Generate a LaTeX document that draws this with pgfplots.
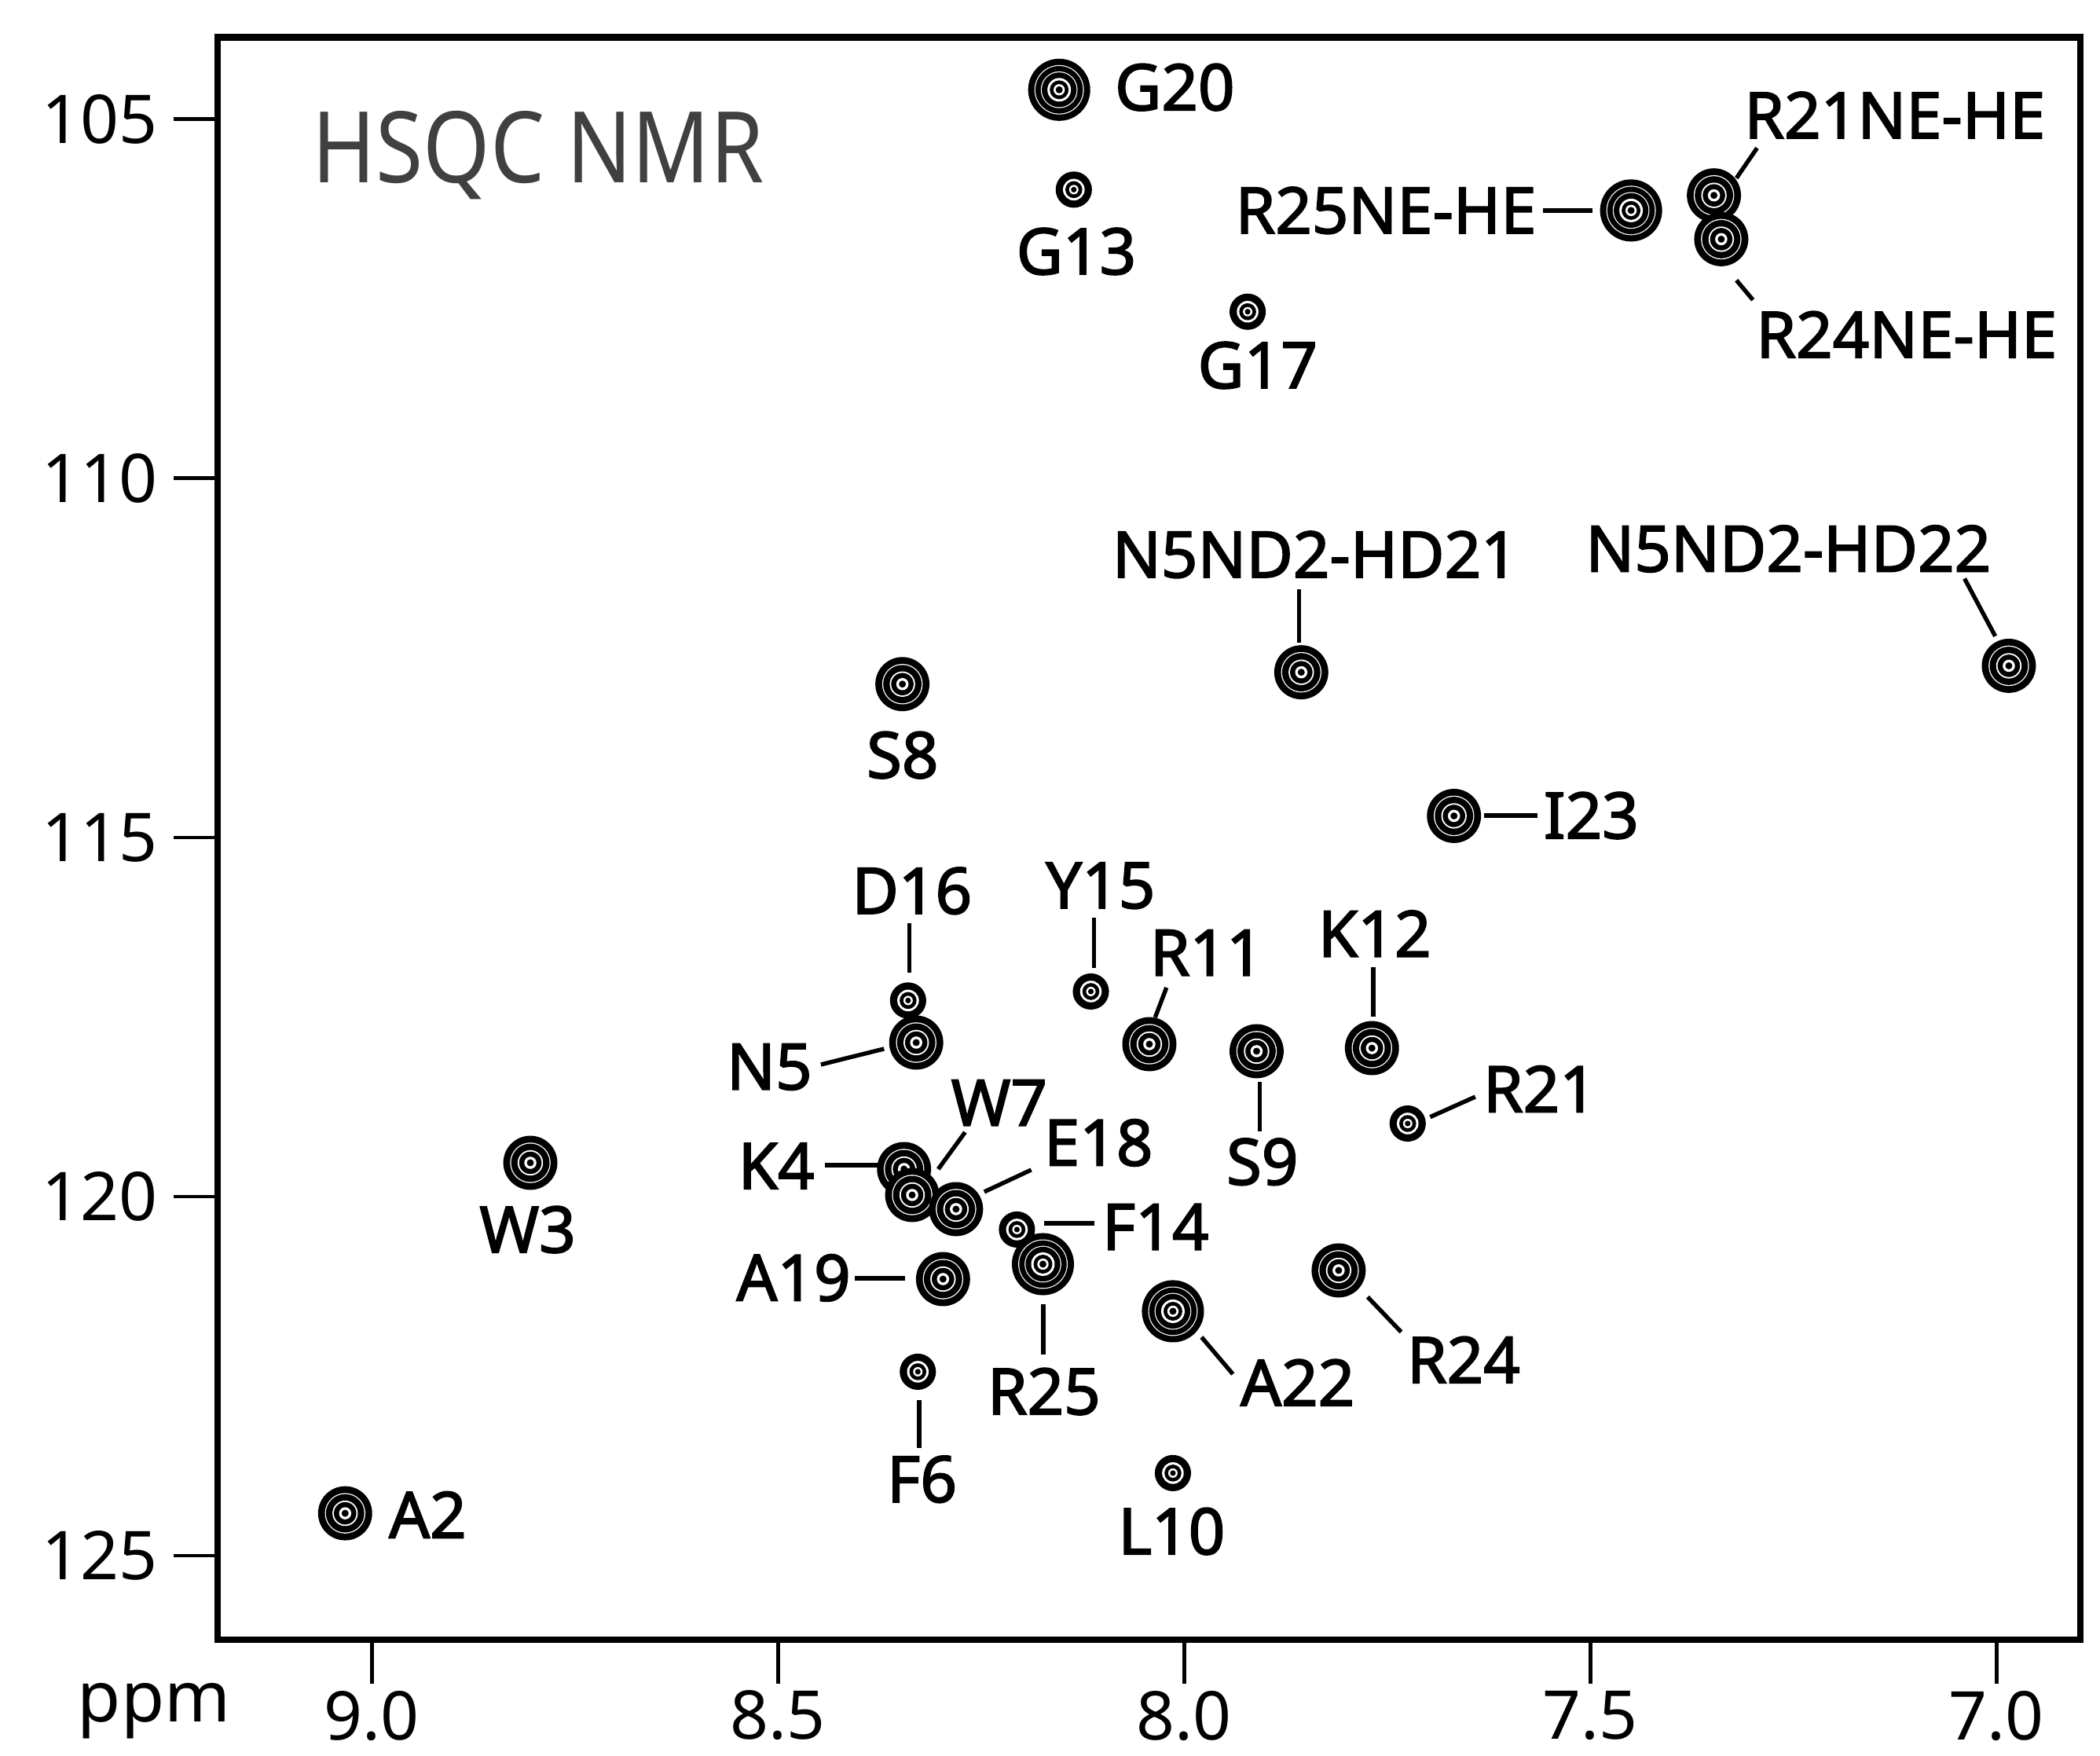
\documentclass[border=0pt]{standalone}
\usepackage{fontspec}
\setmainfont{Noto Sans}
\newfontfamily\labfont{Noto Sans}[FakeBold=2.2]
\usepackage{graphicx}
\usepackage{pgfplots}
\pgfplotsset{compat=1.18}

% peak glyphs: stacked filled circles give the contour rings
\newcommand\ring[2]{\pgfsetfillcolor{#1}\pgfpathcircle{\pgfpointorigin}{#2}\pgfusepathqfill}
\pgfdeclareplotmark{pkS}{\ring{black}{3.85pt}\ring{white}{2.3pt}\ring{black}{1.8pt}\ring{white}{1.0pt}\ring{black}{0.6pt}}
\pgfdeclareplotmark{pkM}{\ring{black}{5.75pt}\ring{white}{4.3pt}\ring{black}{4.08pt}\ring{white}{2.7pt}\ring{black}{2.38pt}\ring{white}{1.3pt}\ring{black}{0.75pt}}
\pgfdeclareplotmark{pkL}{\ring{black}{6.6pt}\ring{white}{5.25pt}\ring{black}{5.05pt}\ring{white}{3.9pt}\ring{black}{3.7pt}\ring{white}{2.5pt}\ring{black}{2.0pt}\ring{white}{1.2pt}\ring{black}{0.75pt}}

\tikzset{
  lab/.style={font=\labfont\fontsize{13.6}{16}\selectfont, inner sep=0pt},
  ld/.style={line width=0.9pt},
}

\pgfplotstableread{
H      N        sz  name
9.033  124.41   M   A2
8.805  119.53   M   W3
8.345  119.617  M   K4
8.335  119.978  M   W7
8.281  120.175  M   E18
8.340  117.27   S   D16
8.330  117.856  M   N5
8.328  122.439  S   F6
8.297  121.149  M   A19
8.347  112.865  M   S8
8.206  120.459  S   F14
8.174  120.941  L   R25
8.154  104.59   L   G20
8.136  105.98   S   G13
8.115  117.145  S   Y15
8.043  117.878  M   R11
8.014  121.597  L   A22
8.014  123.85   S   L10
7.922  107.68   S   G17
7.911  117.976  M   S9
7.856  112.70   M   N5ND2-HD21
7.810  121.028  M   R24
7.769  117.933  M   K12
7.725  118.983  S   R21
7.668  114.70   M   I23
7.450  106.27   L   R25NE-HE
7.348  106.06   M   R21NE-HE
7.339  106.67   M   R24NE-HE
6.985  112.61   M   N5ND2-HD22
}\peaks

\begin{document}
\begin{tikzpicture}
\useasboundingbox (-1.625,-0.868) rectangle (14.056,12.243);
\begin{axis}[
  at={(0,0)}, anchor=south west,
  width=13.909cm, height=11.964cm, scale only axis,
  x dir=reverse, y dir=reverse,
  xmin=6.897, xmax=9.190, ymin=103.86, ymax=126.17,
  xtick={7,7.5,8,8.5,9}, ytick={105,110,115,120,125},
  xtick pos=left, ytick pos=left, xticklabel pos=left, yticklabel pos=left,
  tick align=outside, major tick length=9.3pt,
  axis line style={line width=1.4pt},
  tick style={line width=0.8pt, black},
  x tick label style={yshift=2pt, /pgf/number format/.cd, fixed, fixed zerofill, precision=1},
  tick label style={font=\fontsize{14.3}{17}\selectfont},
  /pgf/number format/assume math mode=true,
  clip=false,
]
\addplot[scatter, only marks, scatter src=explicit symbolic,
  scatter/classes={S={mark=pkS}, M={mark=pkM}, L={mark=pkL}}]
  table[x=H, y=N, meta=sz] {\peaks};

\node[anchor=base west, text=black!75, inner sep=0pt] at ([xshift=19.9pt, yshift=-30.8pt]axis description cs:0,1)
  {\scalebox{0.87}[1]{\fontsize{21}{25}\selectfont HSQC NMR}};
\node[anchor=base, inner sep=0pt, font=\fontsize{15}{18}\selectfont] at ([xshift=-13.5pt, yshift=-17.5pt]axis description cs:0,0) {ppm};

\node[lab, anchor=west] at (axis cs:8.0866,104.555) {G20};
\node[lab, anchor=north] at (axis cs:8.133,106.50) {G13};
\node[lab, anchor=north] at (axis cs:7.9097,108.086) {G17};
\node[lab, anchor=east] at (axis cs:7.5654,106.27) {R25NE-HE};
\draw[ld] (axis cs:7.5581,106.27) -- (axis cs:7.4977,106.27);
\node[lab, anchor=south west] at (axis cs:7.3116,105.277) {R21NE-HE};
\draw[ld] (axis cs:7.3203,105.820) -- (axis cs:7.2949,105.400);
\node[lab, anchor=north west] at (axis cs:7.2971,107.661) {R24NE-HE};
\draw[ld] (axis cs:7.3203,107.242) -- (axis cs:7.3000,107.516);
\node[lab, anchor=south] at (axis cs:7.839,111.402) {N5ND2-HD21};
\draw[ld] (axis cs:7.8588,111.544) -- (axis cs:7.8588,112.288);
\node[lab, anchor=south] at (axis cs:7.2564,111.321) {N5ND2-HD22};
\draw[ld] (axis cs:7.0395,111.396) -- (axis cs:7.0017,112.198);
\node[lab, anchor=north] at (axis cs:8.3468,113.513) {S8};
\node[lab, anchor=west] at (axis cs:7.5586,114.695) {I23};
\draw[ld] (axis cs:7.6314,114.695) -- (axis cs:7.5655,114.695);
\node[lab, anchor=south] at (axis cs:8.3352,116.084) {D16};
\draw[ld] (axis cs:8.3385,116.193) -- (axis cs:8.3385,116.883);
\node[lab, anchor=south] at (axis cs:8.1031,116.007) {Y15};
\draw[ld] (axis cs:8.1114,116.117) -- (axis cs:8.1114,116.817);
\node[lab, anchor=south] at (axis cs:7.9725,116.937) {R11};
\draw[ld] (axis cs:8.0219,117.090) -- (axis cs:8.0359,117.506);
\node[lab, anchor=south] at (axis cs:7.7656,116.675) {K12};
\draw[ld] (axis cs:7.7675,116.806) -- (axis cs:7.7675,117.492);
\node[lab, anchor=east] at (axis cs:8.457,118.195) {N5};
\draw[ld] (axis cs:8.4473,118.162) -- (axis cs:8.3696,117.943);
\node[lab, anchor=north] at (axis cs:7.9039,119.176) {S9};
\draw[ld] (axis cs:7.9072,118.403) -- (axis cs:7.9072,119.088);
\node[lab, anchor=west] at (axis cs:7.6331,118.501) {R21};
\draw[ld] (axis cs:7.6973,118.892) -- (axis cs:7.6418,118.611);
\node[lab, anchor=east] at (axis cs:8.4541,119.573) {K4};
\draw[ld] (axis cs:8.4425,119.563) -- (axis cs:8.3758,119.563);
\node[lab, anchor=south] at (axis cs:8.2278,119.026) {W7};
\draw[ld] (axis cs:8.2698,119.104) -- (axis cs:8.3029,119.618);
\node[lab, anchor=south west] at (axis cs:8.1737,119.591) {E18};
\draw[ld] (axis cs:8.1884,119.628) -- (axis cs:8.2462,119.934);
\node[lab, anchor=west] at (axis cs:8.1021,120.421) {F14};
\draw[ld] (axis cs:8.1721,120.372) -- (axis cs:8.1109,120.372);
\node[lab, anchor=east] at (axis cs:8.4096,121.132) {A19};
\draw[ld] (axis cs:8.4058,121.138) -- (axis cs:8.3439,121.138);
\node[lab, anchor=north] at (axis cs:8.1727,122.374) {R25};
\draw[ld] (axis cs:8.1737,121.495) -- (axis cs:8.1737,122.204);
\node[lab, anchor=north west] at (axis cs:7.9319,122.253) {A22};
\draw[ld] (axis cs:7.9787,121.958) -- (axis cs:7.9402,122.472);
\node[lab, anchor=north west] at (axis cs:7.7269,121.936) {R24};
\draw[ld] (axis cs:7.7743,121.398) -- (axis cs:7.733,121.886);
\node[lab, anchor=north] at (axis cs:8.3229,123.596) {F6};
\draw[ld] (axis cs:8.3265,122.829) -- (axis cs:8.3265,123.498);
\node[lab, anchor=north] at (axis cs:8.0155,124.321) {L10};
\node[lab, anchor=north] at (axis cs:8.8083,120.12) {W3};
\node[lab, anchor=west] at (axis cs:8.9802,124.43) {A2};
\end{axis}
\end{tikzpicture}
\end{document}
